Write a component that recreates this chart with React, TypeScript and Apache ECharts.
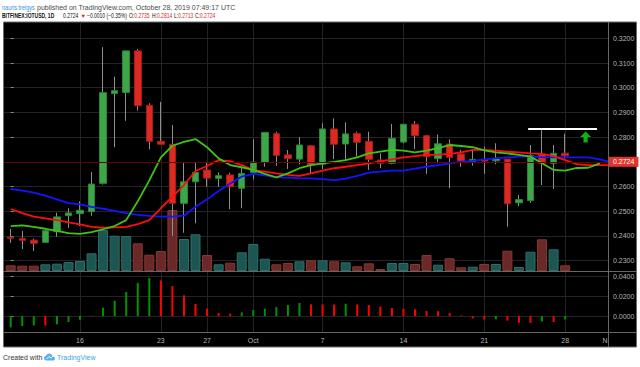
import React, { useEffect, useRef } from "react";
import * as echarts from "echarts";

// BITFINEX:IOTUSD daily, 2019-09-10 (index 0) .. 2019-10-28 (index 48)
const dates: string[] = Array.from({ length: 49 }, (_, i) =>
  new Date(Date.UTC(2019, 8, 10 + i)).toISOString().slice(0, 10)
);

const opens = [
  0.2395, 0.239, 0.2383, 0.2374, 0.2417, 0.2482, 0.249, 0.2498, 0.2613, 0.2976,
  0.2981, 0.3149, 0.2929, 0.2783, 0.2771, 0.2532, 0.2619, 0.2667, 0.2633, 0.2647,
  0.2593, 0.2657, 0.2698, 0.2814, 0.2728, 0.2711, 0.2765, 0.269, 0.2833, 0.2772,
  0.2815, 0.2783, 0.2707, 0.2694, 0.278, 0.2852, 0.2806, 0.2713, 0.2772, 0.2732,
  0.27, 0.271, 0.2704, 0.2711, 0.2534, 0.2543, 0.273, 0.2694, 0.2735,
];
const highs = [
  0.2428, 0.242, 0.2389, 0.2425, 0.2494, 0.2512, 0.254, 0.2659, 0.3164, 0.3045,
  0.315, 0.3157, 0.2937, 0.2943, 0.2849, 0.27, 0.2696, 0.2696, 0.2657, 0.2656,
  0.2674, 0.2791, 0.2821, 0.2822, 0.2748, 0.28, 0.2768, 0.2856, 0.2876, 0.286,
  0.2822, 0.2822, 0.2734, 0.2853, 0.2853, 0.2865, 0.2808, 0.2811, 0.2791, 0.2748,
  0.2751, 0.2761, 0.2775, 0.2712, 0.2566, 0.2768, 0.2829, 0.2768, 0.2814,
];
const lows = [
  0.2372, 0.2347, 0.2339, 0.2372, 0.2397, 0.2433, 0.244, 0.2482, 0.2608, 0.2759,
  0.2866, 0.2907, 0.2751, 0.277, 0.24, 0.2413, 0.2451, 0.2599, 0.2599, 0.2508,
  0.2512, 0.2629, 0.268, 0.2684, 0.2671, 0.269, 0.2651, 0.2671, 0.2711, 0.2707,
  0.2721, 0.2667, 0.2674, 0.269, 0.2775, 0.2751, 0.2651, 0.2694, 0.2593, 0.268,
  0.2684, 0.2651, 0.269, 0.2437, 0.2521, 0.2534, 0.2606, 0.259, 0.2713,
];
const closes = [
  0.239, 0.2382, 0.237, 0.2421, 0.2477, 0.2493, 0.2504, 0.261, 0.298, 0.2988,
  0.3149, 0.2927, 0.2783, 0.2771, 0.2532, 0.2619, 0.2657, 0.2634, 0.2644, 0.2599,
  0.2653, 0.2699, 0.2819, 0.2726, 0.2713, 0.2768, 0.2687, 0.2833, 0.2771, 0.2813,
  0.2779, 0.271, 0.2694, 0.2795, 0.2852, 0.2806, 0.2721, 0.2773, 0.2718, 0.2703,
  0.271, 0.2703, 0.2714, 0.253, 0.2547, 0.2725, 0.2694, 0.2734, 0.2724,
];
// volume (relative units)
const volumes = [
  5.7, 5.3, 5.3, 6.7, 7.3, 9, 10, 17.7, 41, 35.3, 35, 27.7, 16.3, 20, 61, 32, 36.7,
  16, 6.7, 8.3, 18.7, 27, 12.3, 6.7, 8, 9.7, 10.7, 10.7, 9.7, 8.7, 4.7, 7.7, 2, 8, 8,
  7, 16, 6.3, 12.7, 3.7, 4.3, 7, 7, 20.3, 4, 19.3, 31.7, 21.7, 5.7,
];
// Awesome Oscillator
const aoValues = [
  -0.0115, -0.0102, -0.0095, -0.0097, -0.0085, -0.0061, -0.0037, 0.0003, 0.0085,
  0.0156, 0.0244, 0.0335, 0.0386, 0.0362, 0.0305, 0.021, 0.0122, 0.0074, 0.003,
  0.0024, 0.0037, 0.0061, 0.0074, 0.0091, 0.0112, 0.0132, 0.0119, 0.0118, 0.0117,
  0.0125, 0.0118, 0.0112, 0.0095, 0.0081, 0.0074, 0.0068, 0.0051, 0.005, 0.003,
  0.0007, -0.0024, -0.0034, -0.0032, -0.0047, -0.0068, -0.007, -0.0054, -0.0061,
  -0.0034,
];
// Alligator (displaced forward, so they run past the last candle)
const lipsGreen = [
  0.244, 0.2443, 0.2437, 0.2429, 0.242, 0.2411, 0.2408, 0.2415, 0.2427, 0.244,
  0.2464, 0.254, 0.2625, 0.2718, 0.2765, 0.2781, 0.2792, 0.2759, 0.2714, 0.2687,
  0.2678, 0.2667, 0.2651, 0.2637, 0.2653, 0.2674, 0.2687, 0.2694, 0.27, 0.2707,
  0.2718, 0.2734, 0.2741, 0.2748, 0.2745, 0.2738, 0.2745, 0.2755, 0.2768, 0.2764,
  0.2759, 0.2746, 0.2738, 0.2734, 0.2728, 0.2721, 0.2694, 0.2667, 0.2664, 0.2675,
  0.2676, 0.2694,
];
const teethRed = [
  0.2509, 0.2492, 0.2478, 0.2471, 0.2464, 0.2455, 0.2447, 0.2437, 0.2433, 0.2435,
  0.2437, 0.2448, 0.2464, 0.2512, 0.2559, 0.2606, 0.2663, 0.2683, 0.2707, 0.2703,
  0.2687, 0.2667, 0.266, 0.2653, 0.2647, 0.2643, 0.2653, 0.2664, 0.2674, 0.268,
  0.2687, 0.2694, 0.2702, 0.271, 0.2718, 0.2723, 0.2728, 0.2729, 0.2732, 0.2738,
  0.2748, 0.2748, 0.2745, 0.2741, 0.2738, 0.2734, 0.2732, 0.2723, 0.2707, 0.2691,
  0.2687, 0.2687, 0.2687,
];
const jawBlue = [
  0.259, 0.2583, 0.2575, 0.2563, 0.2548, 0.2533, 0.2528, 0.2518, 0.251, 0.2501,
  0.2492, 0.2485, 0.2481, 0.2478, 0.2478, 0.2482, 0.2518, 0.2548, 0.2582, 0.2612,
  0.264, 0.2651, 0.2645, 0.2637, 0.2636, 0.2634, 0.2633, 0.263, 0.2626, 0.2632,
  0.2643, 0.2656, 0.266, 0.2664, 0.2664, 0.2672, 0.268, 0.2687, 0.2694, 0.27,
  0.2704, 0.271, 0.2714, 0.2718, 0.2721, 0.2721, 0.2719, 0.2718, 0.2718, 0.2718,
  0.2718, 0.271, 0.2698,
];
const resistanceLevel = 0.2833;
const resistanceSpan = [44.8, 50.76];
const arrowPoint = [49.77, 0.28];

const xTickPos = [6, 13, 17, 21, 27, 34, 41, 48, 51.45];
const xTickLabels = ["16", "23", "27", "Oct", "7", "14", "21", "28", "N"];
const priceTicks = [0.23, 0.24, 0.25, 0.26, 0.27, 0.28, 0.29, 0.3, 0.31, 0.32];
const aoTicks = [0, 0.02, 0.04];

const X_MIN = -0.58;
const X_MAX = 51.71;
const FONT = '"Liberation Sans", Arial, sans-serif';
const GRID_C = "#242424";
const LABEL_C = "#b4b4b4";
const UP = "#3da649";
const UP_B = "#2b8537";
const DOWN = "#dc2a22";
const DOWN_B = "#a61b15";
const WICK = "#8e8e8e";
const NARROW_SCALE = 0.78;

let shapeRegistered = false;

export default function App() {
  const ref = useRef<HTMLDivElement>(null);
  useEffect(() => {
    if (!ref.current) return;
    if (!shapeRegistered) {
      echarts.graphic.registerShape(
        "tvcloud",
        echarts.graphic.extendPath(
          "M5,14 C2.2,14 0,11.8 0,9.2 C0,6.8 1.8,4.9 4.1,4.7 C4.9,2 7.4,0 10.4,0 C13.6,0 16.2,2.3 16.7,5.3 C19.6,5.4 22,7.6 22,10.3 C22,12.3 20.4,14 18.4,14 Z",
          {}
        )
      );
      shapeRegistered = true;
    }
    const chart = echarts.init(ref.current, null, { renderer: "svg", width: 640, height: 367 });
    const last = closes.length - 1;
    const lastClose = closes[last];

    const bodies = opens.map((o, i) => [i, o, closes[i], Math.min(o, closes[i]), Math.max(o, closes[i])]);
    const wicks = opens.map((_, i) => [i, lows[i], lows[i], lows[i], highs[i]]);
    const volData = volumes.map((v, i) => ({
      value: [i, v],
      itemStyle:
        closes[i] >= opens[i]
          ? { color: "#1c5652", borderColor: "#2c6e68", borderWidth: 1 }
          : { color: "#6a2927", borderColor: "#883633", borderWidth: 1 },
    }));
    const aoData = aoValues.map((v, i) => ({
      value: [i, v],
      itemStyle: { color: i === 0 || v >= aoValues[i - 1] ? "#009400" : "#ff0000" },
    }));
    const xFmt = (v: number) => {
      const k = xTickPos.findIndex((p) => Math.abs(p - v) < 1e-6);
      return k >= 0 ? xTickLabels[k] : "";
    };
    const lineSeries = (data: number[], color: string) => ({
      type: "line",
      xAxisIndex: 0,
      yAxisIndex: 0,
      data: data.map((v, i) => [i, v]),
      showSymbol: false,
      symbol: "none",
      silent: true,
      z: 4,
      lineStyle: { color, width: 1.8 },
    });
    const hText = (x: number, y: number, text: string, fill: string, font: string, sx = 1) => ({
      type: "text", x, y, z: 100, scaleX: sx, silent: true,
      style: { text, fill, font, verticalAlign: "middle" },
    });

    const headerTexts: any[] = [
      hText(2, 7, "nauris.treigys", "#3b93d8", `7px ${FONT}`, 0.79),
      hText(37, 7, "published on TradingView.com, October 28, 2019 07:49:17 UTC", "#4a4a4a", `7px ${FONT}`),
      hText(2, 16, "BITFINEX:IOTUSD, 1D", "#111", `bold 6.4px ${FONT}`, NARROW_SCALE),
      hText(63, 16, lastClose.toFixed(4), "#111", `6.4px ${FONT}`, NARROW_SCALE),
      hText(80.5, 16, "▼", "#d81e1e", `5.5px ${FONT}`),
      hText(87, 16, "−0.0010 (−0.35%)", "#111", `6.4px ${FONT}`, NARROW_SCALE),
    ];
    const ohlc: [string, number, number][] = [
      ["O", opens[last], 129],
      ["H", highs[last], 152],
      ["L", lows[last], 174],
      ["C", closes[last], 195],
    ];
    ohlc.forEach(([k, v, x]) => {
      headerTexts.push({
        type: "text", x, y: 16, z: 100, scaleX: NARROW_SCALE, silent: true,
        style: {
          text: `{k|${k}:}{v|${v.toFixed(4)}}`,
          verticalAlign: "middle",
          font: `6.4px ${FONT}`,
          rich: {
            k: { fill: "#111", font: `6.4px ${FONT}` },
            v: { fill: "#d81e1e", font: `6.4px ${FONT}` },
          },
        },
      });
    });

    const option: any = {
      animation: false,
      backgroundColor: "#ffffff",
      textStyle: { fontFamily: FONT },
      grid: [
        { left: 4, top: 22, width: 604, height: 249, containLabel: false, outerBoundsMode: "none" },
        { left: 4, top: 271, width: 604, height: 61, containLabel: false, outerBoundsMode: "none" },
      ],
      xAxis: [
        {
          gridIndex: 0, type: "value", min: X_MIN, max: X_MAX,
          axisLine: { show: false },
          axisTick: { show: false, customValues: xTickPos.slice(0, 8) },
          axisLabel: { show: false, customValues: xTickPos.slice(0, 8) },
          splitLine: { show: true, lineStyle: { color: GRID_C, width: 1 } },
        },
        {
          gridIndex: 1, type: "value", min: X_MIN, max: X_MAX,
          axisLine: { show: false },
          axisTick: { show: false, customValues: xTickPos.slice(0, 8) },
          axisLabel: {
            show: true, customValues: xTickPos, formatter: xFmt,
            color: LABEL_C, fontSize: 7, fontFamily: FONT, margin: 5,
          },
          splitLine: { show: true, lineStyle: { color: GRID_C, width: 1 } },
        },
      ],
      yAxis: [
        {
          gridIndex: 0, type: "value", position: "right", min: 0.2258, max: 0.3266,
          axisLine: { show: false },
          axisTick: { show: true, length: 3, customValues: priceTicks, lineStyle: { color: "#8a8a8a" } },
          axisLabel: {
            customValues: priceTicks, formatter: (v: number) => v.toFixed(4),
            color: LABEL_C, fontSize: 7, fontFamily: FONT, margin: 5,
          },
          splitLine: { show: true, lineStyle: { color: GRID_C, width: 1 } },
        },
        { gridIndex: 0, type: "value", min: 0, max: 249, show: false },
        {
          gridIndex: 1, type: "value", position: "right", min: -0.0162, max: 0.0457,
          axisLine: { show: false },
          axisTick: { show: true, length: 3, customValues: aoTicks, lineStyle: { color: "#8a8a8a" } },
          axisLabel: {
            customValues: aoTicks, formatter: (v: number) => v.toFixed(4),
            color: LABEL_C, fontSize: 7, fontFamily: FONT, margin: 5,
          },
          splitLine: { show: true, lineStyle: { color: GRID_C, width: 1 } },
        },
      ],
      series: [
        {
          type: "bar", name: "Volume", xAxisIndex: 0, yAxisIndex: 1, barWidth: 10,
          data: volData, silent: true, z: 1,
        },
        {
          type: "candlestick", name: "wicks", xAxisIndex: 0, yAxisIndex: 0, barWidth: 1,
          data: wicks, silent: true, z: 2,
          itemStyle: { color: WICK, color0: WICK, borderColor: WICK, borderColor0: WICK, borderWidth: 1 },
          markLine: {
            silent: true, symbol: "none", animation: false,
            lineStyle: { color: "#640202", width: 1, type: "solid" },
            label: {
              show: true, position: "end", distance: 1,
              formatter: lastClose.toFixed(4),
              backgroundColor: "#e3342c", color: "#ffffff", fontSize: 7, fontFamily: FONT,
              padding: [2, 4, 1, 4],
            },
            data: [{ yAxis: lastClose }],
          },
        },
        {
          type: "candlestick", name: "IOTUSD", xAxisIndex: 0, yAxisIndex: 0, barWidth: 7,
          data: bodies, silent: true, z: 3,
          itemStyle: { color: UP, color0: DOWN, borderColor: UP_B, borderColor0: DOWN_B, borderWidth: 1 },
        },
        lineSeries(jawBlue, "#1414ff"),
        lineSeries(teethRed, "#ff0d0d"),
        lineSeries(lipsGreen, "#40c414"),
        {
          type: "line", xAxisIndex: 0, yAxisIndex: 0, silent: true, z: 5,
          data: [[resistanceSpan[0], resistanceLevel], [resistanceSpan[1], resistanceLevel]],
          showSymbol: false, symbol: "none",
          lineStyle: { color: "#ffffff", width: 2 },
        },
        {
          type: "scatter", xAxisIndex: 0, yAxisIndex: 0, silent: true, z: 5,
          data: [arrowPoint],
          symbol: "path://M5.5,0 L11,5.5 L7.6,5.5 L7.6,11 L3.4,11 L3.4,5.5 L0,5.5 Z",
          symbolSize: [11, 11],
          itemStyle: { color: "#12e012" },
        },
        {
          type: "bar", name: "AO", xAxisIndex: 1, yAxisIndex: 2, barWidth: 2,
          data: aoData, silent: true, z: 3,
        },
      ],
      graphic: [
        {
          type: "rect", z: -100, silent: true,
          shape: { x: 3.5, y: 22, width: 633, height: 325 },
          style: { fill: "#000000", stroke: "#6e6e6e", lineWidth: 1 },
        },
        { type: "line", z: 50, silent: true, shape: { x1: 4, y1: 271.5, x2: 636, y2: 271.5 }, style: { stroke: "#666", lineWidth: 1 } },
        { type: "line", z: 50, silent: true, shape: { x1: 4, y1: 332.5, x2: 636, y2: 332.5 }, style: { stroke: "#666", lineWidth: 1 } },
        { type: "line", z: 50, silent: true, shape: { x1: 608.5, y1: 22, x2: 608.5, y2: 347 }, style: { stroke: "#666", lineWidth: 1 } },
        ...headerTexts,
        hText(3, 357.5, "Created with", "#333", `7px ${FONT}`),
        { type: "tvcloud", x: 44, y: 353.5, scaleX: 0.5, scaleY: 0.5, z: 100, silent: true, style: { fill: "#5db0ea" } },
        {
          type: "polyline", z: 101, silent: true,
          shape: { points: [[46.5, 359], [49, 356.5], [51, 358], [53.5, 355.5]] },
          style: { stroke: "#ffffff", lineWidth: 0.9, fill: null },
        },
        hText(57, 357.5, "TradingView", "#3f9fe6", `7px ${FONT}`),
      ],
    };
    chart.setOption(option);
    return () => chart.dispose();
  }, []);
  return (
    <div
      ref={ref}
      data-dates={dates.length}
      style={{ position: "absolute", left: 0, top: 0, width: 640, height: 367 }}
    />
  );
}
